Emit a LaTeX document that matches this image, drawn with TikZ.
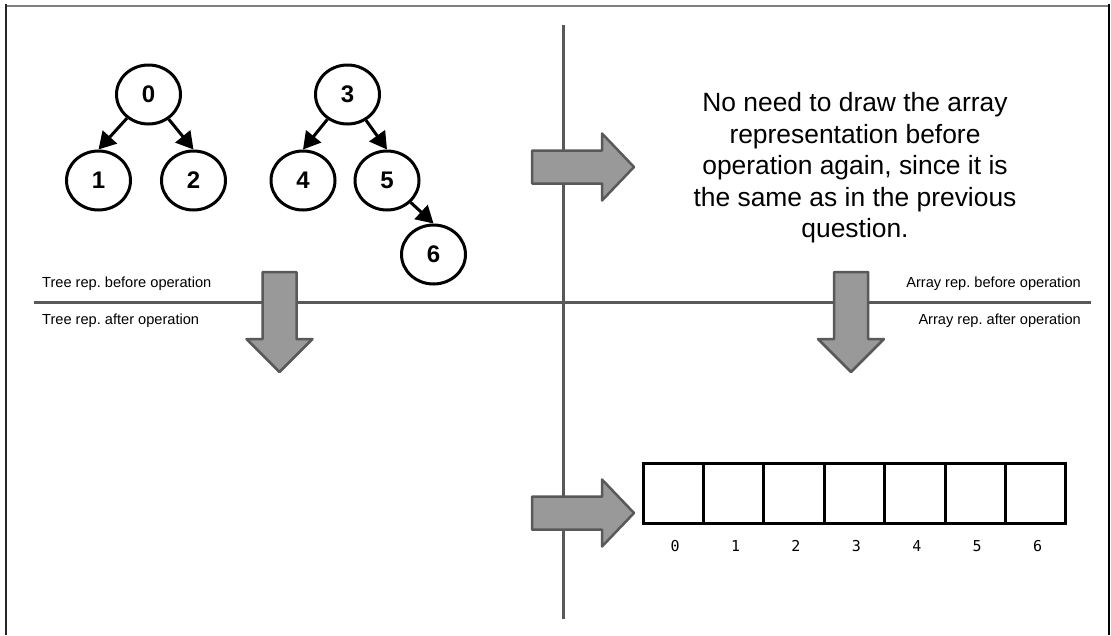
\documentclass[tikz,border=0pt]{standalone}
\usepackage{fontspec}
\setmainfont{Liberation Sans}
\newfontfamily\monofont{DejaVu Sans Mono}
\usetikzlibrary{arrows.meta,shapes.geometric}
\frenchspacing

\definecolor{rule}{HTML}{595959}
\definecolor{arrowfill}{HTML}{999999}
\definecolor{frametop}{HTML}{808080}

\tikzset{
  treenode/.style={ellipse, draw=black, line width=3pt, minimum width=64pt,
    minimum height=59pt, inner sep=0pt, font=\fontsize{24}{24}\selectfont\bfseries},
  treeedge/.style={line width=3pt, -{Triangle[length=17pt,width=19pt]}},
  divider/.style={draw=rule, line width=3pt},
  caption/.style={font=\fontsize{14.6}{14.6}\selectfont, inner sep=0pt},
  note/.style={font=\fontsize{26.4}{31.5}\selectfont, align=center, inner sep=0pt},
  cell/.style={rectangle, draw=black, line width=3pt, minimum width=60.4pt,
    minimum height=60pt, inner sep=0pt},
  index/.style={font=\monofont\fontsize{15}{15}\selectfont, inner sep=0pt},
  fatarrow/.style={draw=rule, fill=arrowfill, line width=2.5pt, line join=round},
  pics/fatright/.style={code={
    \path[fatarrow] (0,0) -- (-32,-33.5) -- (-32,-16.5) -- (-102,-16.5)
      -- (-102,16.5) -- (-32,16.5) -- (-32,33.5) -- cycle;}},
  pics/fatdown/.style={code={
    \path[fatarrow] (0,0) -- (-33,-33) -- (-17,-33) -- (-17,-100)
      -- (17,-100) -- (17,-33) -- (33,-33) -- cycle;}},
}

\begin{document}
\begin{tikzpicture}[x=1pt, y=-1pt]
\useasboundingbox (0,0) rectangle (1111,635);

% page frame (open at the bottom)
\draw[frametop, line width=2pt] (6,6) -- (1109,6);
\draw[black!85, line width=2pt] (6,4) -- (6,635);
\draw[black, line width=2pt] (1109,4) -- (1109,635);

% quadrant dividers
\draw[divider] (563,25) -- (563,619);
\draw[divider] (34,302) -- (1091,302);

% quadrant captions
\node[caption, anchor=west] (tb) at (42,284) {Tree rep. before operation};
\node[caption, anchor=west] (ta) at (42,321) {Tree rep. after operation};
\node[caption, anchor=east] (ab) at (1081,284) {Array rep. before operation};
\node[caption, anchor=east] (aa) at (1081,321) {Array rep. after operation};

% trees
\node[treenode] (n0) at (148.5,94.5) {0};
\node[treenode] (n1) at (98.5,180.5) {1};
\node[treenode] (n2) at (193.5,180.5) {2};
\node[treenode] (n3) at (347.5,94.5) {3};
\node[treenode] (n4) at (303,180.5) {4};
\node[treenode] (n5) at (387,180.5) {5};
\node[treenode] (n6) at (433.5,254.5) {6};

\draw[treeedge] (n0) -- (n1.north);
\draw[treeedge] (n0) -- (n2.north);
\draw[treeedge] (n3) -- (n4.north);
\draw[treeedge] (n3) -- (n5.north);
\draw[treeedge] (n5) -- (n6.north);

% note
\node[note] (msg) at (855,168) {No need to draw the array\\representation before\\operation again, since it is\\the same as in the previous\\question.};

% transition arrows
\pic at (634,167) {fatright};
\pic at (279.5,372) {fatdown};
\pic at (851,372) {fatdown};
\pic at (634,513) {fatright};

% array
\foreach \i in {0,...,6} {
  \node[cell] (c\i) at ({673.2+60.4*\i},493) {};
  \node[index] (l\i) at ({675.2+60.4*\i},546) {\i};
}
\end{tikzpicture}
\end{document}
